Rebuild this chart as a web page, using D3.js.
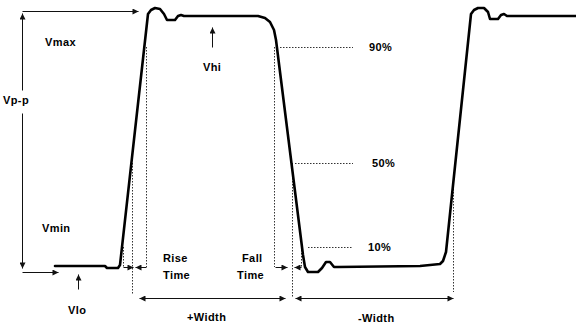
<!DOCTYPE html>
<html>
<head>
<meta charset="utf-8">
<script src="https://cdn.jsdelivr.net/npm/d3@7"></script>
<style>
  html, body { margin: 0; padding: 0; background: #fff; }
  svg { display: block; }
  text { font-family: "Liberation Sans", Arial, sans-serif; font-weight: bold; font-size: 11px; fill: #000; letter-spacing: 0.4px; }
</style>
</head>
<body>
<script>
// ---------- DATA (time units, volts normalised: Vlo = 0, Vhi = 1) ----------
const waveT = [5.5, 10.5, 10.7, 11.8, 12.0, 14.8, 15.1, 15.5, 16.0, 16.4, 16.7, 17.5, 17.8, 18.1, 18.4,
               25.8, 26.5, 27.0, 27.4, 27.6, 30.3, 30.5, 30.8, 31.8, 32.2, 32.6, 33.0, 33.4, 33.8,
               42.0, 44.0, 44.3, 44.6, 47.1, 47.4, 47.8, 48.4, 48.8, 49.0, 49.8, 50.1, 50.4, 50.7, 57.6];
const waveV = [0, 0, -0.008, -0.008, 0.004, 1.008, 1.024, 1.032, 1.028, 1.008, 0.984, 0.984, 1.0, 1.004, 1.0,
               1.0, 0.992, 0.976, 0.944, 0.904, 0.044, -0.004, -0.024, -0.024, -0.008, 0.016, 0.016, -0.004, -0.004,
               0, 0.008, 0.02, 0.056, 1.008, 1.024, 1.032, 1.032, 1.016, 0.988, 0.988, 1.004, 1.008, 1.0, 1.0];

// reference levels
const levelLabels = ["90%", "50%", "10%"];
const levelV      = [0.876, 0.412, 0.076];
const levelStartT = [28.0, 29.5, 30.8];
const levelEndT   = 35.3;
const levelLabelT = [36.9, 37.2, 36.8];

// vertical dotted markers at level crossings
const dropT      = [12.3, 13.2, 14.55, 27.4, 29.2, 30.1, 45.3];
const dropTopV   = [0.076, 0.412, 0.876, 0.876, 0.412, 0.076, 0.356];
const dropBottomV= [-0.004, -0.116, -0.004, -0.004, -0.124, -0.004, -0.104];

// annotation arrows: [t1, v1, t2, v2, doubleHeaded]
const arrows = [
  [2.2, 1.02, 13.8, 1.02, false],     // Vmax horizontal
  [2.2, 0.704, 2.2, 1.012, false],    // Vp-p up
  [2.2, 0.612, 2.2, -0.008, false],   // Vp-p down
  [2.2, -0.024, 5.8, -0.024, false],  // Vlo reference
  [7.8, -0.092, 7.8, -0.032, false],  // Vlo pointer
  [21.2, 0.876, 21.2, 0.956, false],  // Vhi pointer
  [12.3, -0.004, 13.25, -0.004, false], // rise time
  [14.55, -0.004, 13.45, -0.004, false],
  [27.5, -0.004, 28.7, -0.004, false],  // fall time
  [30.1, -0.004, 29.35, -0.004, false],
  [13.95, -0.128, 28.5, -0.128, true],  // +Width
  [29.5, -0.128, 45.25, -0.128, true]   // -Width
];

// text labels: [text, t, v]
const labels = [
  ["Vmax", 4.5, 0.88],
  ["Vp-p", 0.3, 0.648],
  ["Vhi", 20.3, 0.78],
  ["Vmin", 4.2, 0.136],
  ["Vlo", 6.8, -0.192],
  ["Rise", 16.3, 0.016],
  ["Time", 16.3, -0.052],
  ["Fall", 24.2, 0.016],
  ["Time", 23.7, -0.052],
  ["+Width", 18.7, -0.22],
  ["-Width", 35.8, -0.224]
];

// ---------- DRAW ----------
const W = 576, H = 323;
const x = d3.scaleLinear().domain([0, 57.6]).range([0, 576]);
const y = d3.scaleLinear().domain([0, 1]).range([266, 16]);

const svg = d3.select("body").append("svg").attr("width", W).attr("height", H);
svg.append("rect").attr("width", W).attr("height", H).attr("fill", "#fff");

const defs = svg.append("defs");
defs.append("marker")
  .attr("id", "ah").attr("viewBox", "0 0 10 10").attr("refX", 10).attr("refY", 5)
  .attr("markerWidth", 7).attr("markerHeight", 6).attr("markerUnits", "userSpaceOnUse")
  .attr("orient", "auto-start-reverse")
  .append("path").attr("d", "M0,0 L10,5 L0,10 Z").attr("fill", "#111");

// dotted level lines
svg.append("g").selectAll("line").data(levelV).join("line")
  .attr("x1", (d, i) => x(levelStartT[i])).attr("x2", x(levelEndT))
  .attr("y1", d => Math.round(y(d)) + 0.5).attr("y2", d => Math.round(y(d)) + 0.5)
  .attr("stroke", "#333").attr("stroke-width", 1).attr("stroke-dasharray", "1.5,1.5");

svg.append("g").selectAll("text").data(levelLabels).join("text")
  .attr("x", (d, i) => x(levelLabelT[i])).attr("y", (d, i) => y(levelV[i]) + 4)
  .text(d => d);

// dotted vertical markers
svg.append("g").selectAll("line").data(dropT).join("line")
  .attr("x1", d => Math.round(x(d)) + 0.5).attr("x2", d => Math.round(x(d)) + 0.5)
  .attr("y1", (d, i) => y(dropTopV[i])).attr("y2", (d, i) => y(dropBottomV[i]))
  .attr("stroke", "#333").attr("stroke-width", 1).attr("stroke-dasharray", "1.5,1.5");

// waveform
const pts = waveT.map((t, i) => [t, waveV[i]]);
svg.append("path").datum(pts)
  .attr("d", d3.line().x(d => x(d[0])).y(d => y(d[1])).curve(d3.curveLinear))
  .attr("fill", "none").attr("stroke", "#000").attr("stroke-width", 2.6)
  .attr("stroke-linejoin", "round").attr("stroke-linecap", "round");

// annotation arrows
svg.append("g").selectAll("line").data(arrows).join("line")
  .attr("x1", d => Math.round(x(d[0])) + 0.5).attr("y1", d => Math.round(y(d[1])) + 0.5)
  .attr("x2", d => Math.round(x(d[2])) + 0.5).attr("y2", d => Math.round(y(d[3])) + 0.5)
  .attr("stroke", "#111").attr("stroke-width", 1)
  .attr("marker-end", "url(#ah)")
  .attr("marker-start", d => d[4] ? "url(#ah)" : null);

// labels
svg.append("g").selectAll("text").data(labels).join("text")
  .attr("x", d => x(d[1])).attr("y", d => y(d[2]))
  .text(d => d[0]);
</script>
</body>
</html>
